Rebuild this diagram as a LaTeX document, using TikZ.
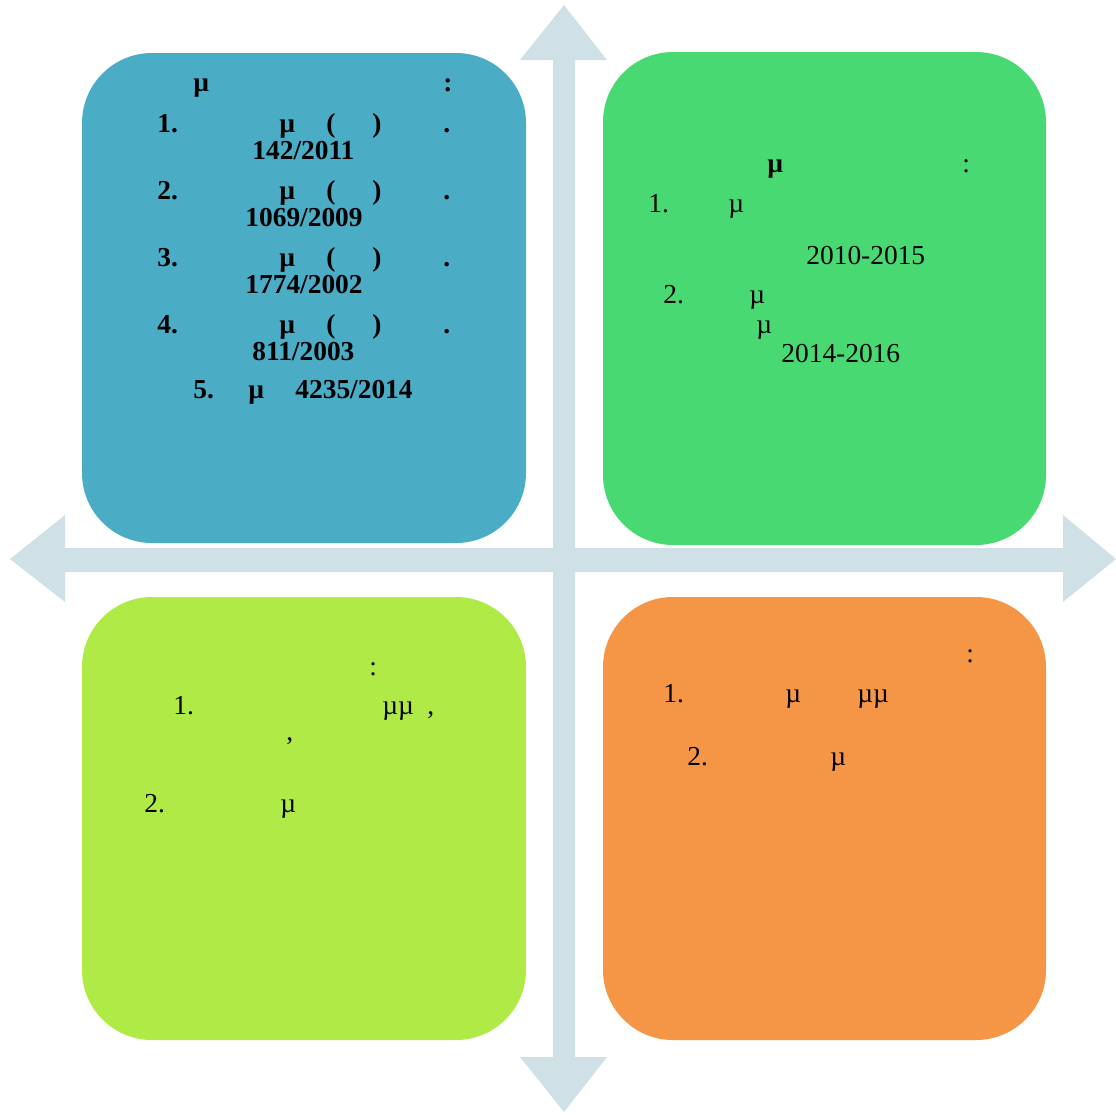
\documentclass[tikz,border=0pt]{standalone}
\usepackage{fontspec}
\setmainfont{Liberation Serif}
\usetikzlibrary{positioning}
\definecolor{crossgray}{RGB}{207,224,231}
\definecolor{panblue}{RGB}{75,172,198}
\definecolor{pangreen}{RGB}{73,217,115}
\definecolor{panlime}{RGB}{175,234,70}
\definecolor{panorange}{RGB}{245,150,70}
\newcommand{\tfont}{\fontsize{13.7}{16}\selectfont}
\tikzset{
  pan/.style={rounded corners=35pt},
  crossarr/.style={fill=crossgray, draw=none},
  txt/.style={inner sep=0pt, anchor=base west, font=\tfont},
  btxt/.style={inner sep=0pt, anchor=base west, font=\tfont\bfseries},
}

\begin{document}
\begin{tikzpicture}[x=0.5pt, y=-0.5pt]
    \useasboundingbox (0,0) rectangle (1116,1115);
    % cross
    \fill[crossarr] (553,60) -- (520,60) -- (564,5) -- (607,60) -- (575,60) -- (575,1057)
      -- (607,1057) -- (564,1112) -- (520,1057) -- (553,1057) -- cycle;
    \fill[crossarr] (65,548) -- (65,515) -- (10,559) -- (65,602) -- (65,572) -- (1063,572)
      -- (1063,602) -- (1116,559) -- (1063,515) -- (1063,548) -- cycle;
    % panels
    \fill[pan, panblue] (82,53) rectangle (526,543);
    \fill[pan, pangreen] (603,52) rectangle (1046,545);
    \fill[pan, panlime] (82,597) rectangle (526,1040);
    \fill[pan, panorange] (603,597) rectangle (1046,1040);
    % top left
    \begin{scope}
      \node[btxt] (bhead) at (193,91) {µ};
      \node[btxt] (bcolon) at (443,91) {:};
      \foreach \i/\y/\num/\nx in {1/132/142\slash2011/252, 2/199/1069\slash2009/245,
                                  3/266/1774\slash2002/245, 4/333/811\slash2003/252} {
        \node[btxt] (bn\i) at (157,\y) {\i.};
        \node[btxt] (bmu\i) at (279,\y) {µ};
        \node[btxt] (bpl\i) at (326,\y) {(};
        \node[btxt] (bpr\i) at (372,\y) {)};
        \node[btxt] (bdot\i) at (443,\y) {.};
        \node[btxt] (bnum\i) at (\nx,\y+27) {\num};
      }
      \node[btxt] (bn5) at (193,398) {5.};
      \node[btxt] (bmu5) at (248,398) {µ};
      \node[btxt] (bnum5) at (295,398) {4235/2014};
    \end{scope}
    % top right
    \begin{scope}
      \node[btxt] (ghead) at (767,172) {µ};
      \node[txt] (gcolon) at (962,172) {:};
      \node[txt] (gn1) at (648,212) {1.};
      \node[txt] (gmu1) at (728,212) {µ};
      \node[txt] (gyr1) at (806,264) {2010-2015};
      \node[txt] (gn2) at (663,303) {2.};
      \node[txt] (gmu2) at (749,303) {µ};
      \node[txt] (gmu3) at (756,333) {µ};
      \node[txt] (gyr2) at (781,362) {2014-2016};
    \end{scope}
    % bottom left
    \begin{scope}
      \node[txt] (lcolon) at (369,675) {:};
      \node[txt] (ln1) at (173,714) {1.};
      \node[txt] (lmu1) at (382,714) {µµ};
      \node[txt] (lcom1) at (427,714) {,};
      \node[txt] (lcom2) at (286,740) {,};
      \node[txt] (ln2) at (144,812) {2.};
      \node[txt] (lmu2) at (280,812) {µ};
    \end{scope}
    % bottom right
    \begin{scope}
      \node[txt] (ocolon) at (966,662) {:};
      \node[txt] (on1) at (663,702) {1.};
      \node[txt] (omu1) at (785,702) {µ};
      \node[txt] (omu2) at (857,702) {µµ};
      \node[txt] (on2) at (687,765) {2.};
      \node[txt] (omu3) at (830,765) {µ};
    \end{scope}
  \end{tikzpicture}
\end{document}
